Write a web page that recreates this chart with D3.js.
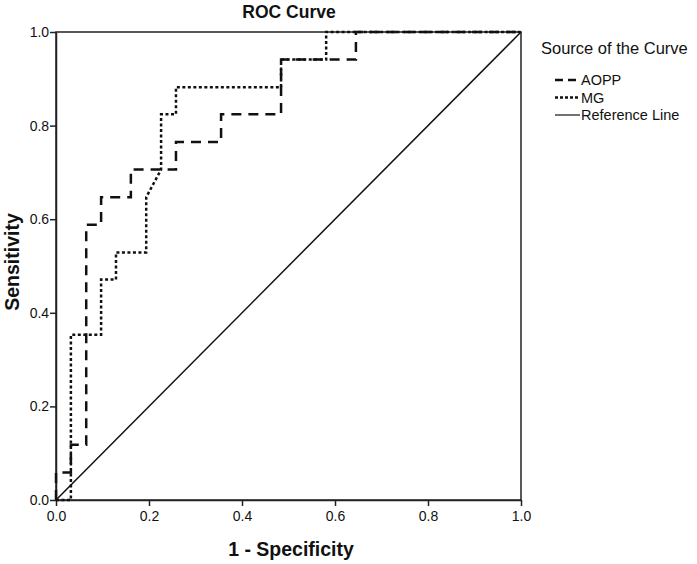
<!DOCTYPE html>
<html><head><meta charset="utf-8">
<script src="https://cdn.jsdelivr.net/npm/d3@7"></script>
<style>body{margin:0;background:#fff}svg{display:block}text{font-family:"Liberation Sans",Arial,sans-serif}</style>
</head><body>
<svg id="c" width="697" height="564"></svg>
<script>
const xTicks = [0, 0.2, 0.4, 0.6, 0.8, 1.0];
const yTicks = [0, 0.2, 0.4, 0.6, 0.8, 1.0];
const aoppFpr = [0, 0, 0.032, 0.032, 0.065, 0.065, 0.097, 0.097, 0.161, 0.161, 0.226, 0.258, 0.258, 0.355, 0.355, 0.484, 0.484, 0.645, 0.645, 1];
const aoppTpr = [0, 0.059, 0.059, 0.118, 0.118, 0.588, 0.588, 0.647, 0.647, 0.706, 0.706, 0.706, 0.765, 0.765, 0.824, 0.824, 0.941, 0.941, 1, 1];
const mgFpr = [0, 0.032, 0.032, 0.097, 0.097, 0.129, 0.129, 0.194, 0.194, 0.226, 0.226, 0.258, 0.258, 0.484, 0.484, 0.581, 0.581, 1];
const mgTpr = [0, 0, 0.353, 0.353, 0.471, 0.471, 0.529, 0.529, 0.647, 0.706, 0.824, 0.824, 0.882, 0.882, 0.941, 0.941, 1, 1];
const refX = [0, 1];
const refY = [0, 1];
const legendLabels = ["AOPP", "MG", "Reference Line"];

const svg = d3.select("#c");
const x = d3.scaleLinear().domain([0, 1]).range([56, 521]);
const y = d3.scaleLinear().domain([0, 1]).range([500, 32]);

svg.append("rect").attr("x", x(0)).attr("y", y(1)).attr("width", x(1) - x(0)).attr("height", y(0) - y(1))
  .attr("fill", "none").attr("stroke", "#222").attr("stroke-width", 1.5);

const fmt = d3.format(".1f");
const xa = svg.append("g").attr("transform", `translate(0,${y(0)})`)
  .call(d3.axisBottom(x).tickValues(xTicks).tickFormat(fmt).tickSize(6).tickSizeOuter(0));
const ya = svg.append("g").attr("transform", `translate(${x(0)},0)`)
  .call(d3.axisLeft(y).tickValues(yTicks).tickFormat(fmt).tickSize(6).tickSizeOuter(0));
[xa, ya].forEach(g => {
  g.select(".domain").attr("stroke", "#222").attr("stroke-width", 1.5);
  g.selectAll(".tick line").attr("stroke", "#222").attr("stroke-width", 1.5);
  g.selectAll(".tick text").attr("font-size", 14).attr("fill", "#111")
    .attr("font-family", "'Liberation Sans Narrow','Liberation Sans',Arial,sans-serif");
});
xa.selectAll(".tick text").attr("dy", "0.85em");
ya.selectAll(".tick text").attr("dx", "0.15em");

const line = d3.line().x(d => x(d[0])).y(d => y(d[1]));
svg.append("path").datum(refX.map((v, i) => [v, refY[i]])).attr("d", line)
  .attr("fill", "none").attr("stroke", "#111").attr("stroke-width", 1.5);
svg.append("path").datum(mgFpr.map((v, i) => [v, mgTpr[i]])).attr("d", line)
  .attr("fill", "none").attr("stroke", "#111").attr("stroke-width", 2.5).attr("stroke-dasharray", "3,2.5");
svg.append("path").datum(aoppFpr.map((v, i) => [v, aoppTpr[i]])).attr("d", line)
  .attr("fill", "none").attr("stroke", "#111").attr("stroke-width", 2.5).attr("stroke-dasharray", "10,7");

svg.append("text").attr("x", 289).attr("y", 18).attr("text-anchor", "middle")
  .attr("font-size", 17.5).attr("font-weight", "bold").attr("fill", "#111").text("ROC Curve");
svg.append("text").attr("x", 291).attr("y", 556).attr("text-anchor", "middle")
  .attr("font-size", 19.5).attr("font-weight", "bold").attr("fill", "#111").text("1 - Specificity");
svg.append("text").attr("transform", "translate(19,262) rotate(-90)").attr("text-anchor", "middle")
  .attr("font-size", 19.5).attr("font-weight", "bold").attr("fill", "#111").text("Sensitivity");

svg.append("text").attr("x", 541).attr("y", 54).attr("font-size", 16.5).attr("fill", "#111").text("Source of the Curve");
const dashes = ["8,5", "3,2", null];
const lg = svg.append("g");
legendLabels.forEach((lab, i) => {
  const yy = 80 + i * 17.5;
  lg.append("line").attr("x1", 555).attr("x2", 580).attr("y1", yy).attr("y2", yy)
    .attr("stroke", "#111").attr("stroke-width", i < 2 ? 2.5 : 1.2)
    .attr("stroke-dasharray", dashes[i]);
  lg.append("text").attr("x", 581).attr("y", yy + 5).attr("font-size", 14.5).attr("fill", "#111").text(lab);
});
</script>
</body></html>
